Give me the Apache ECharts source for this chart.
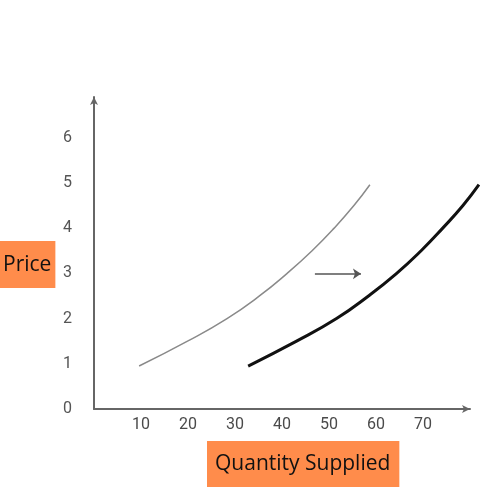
<!DOCTYPE html>
<html>
<head>
<meta charset="utf-8">
<script src="https://cdn.jsdelivr.net/npm/echarts@6/dist/echarts.min.js"></script>
<style>html,body{margin:0;padding:0;background:#fff}#c{width:500px;height:500px}</style>
</head>
<body>
<div id="c"></div>
<script>
const prices = [0.95, 1.5, 2, 2.5, 3, 3.5, 4, 4.5, 4.96];
const qtyOriginal = [9.6, 19.9, 28.3, 35.2, 41.1, 46.4, 51.1, 55.3, 58.7];
const qtyShifted = [32.8, 43.1, 51.6, 58.4, 64.4, 69.6, 74.2, 78.5, 81.9];
const xTickLabels = [10, 20, 30, 40, 50, 60, 70];
const yTickLabels = [0, 1, 2, 3, 4, 5, 6];
const shiftArrow = { fromQty: 47.0, toQty: 56.8, price: 2.99 };

const chart = echarts.init(document.getElementById('c'));
const hiddenAxis = { show: false };
chart.setOption({
  backgroundColor: '#fff',
  animation: false,
  title: [
    { text: 'Price', left: 0, top: 241,
      backgroundColor: '#FF8C4B', padding: [11, 4, 10, 3],
      textStyle: { fontFamily: 'Open Sans', fontSize: 21, fontWeight: 'normal', color: '#111', lineHeight: 26 } },
    { text: 'Quantity Supplied', left: 207, top: 441,
      backgroundColor: '#FF8C4B', padding: [10, 9, 10, 8],
      textStyle: { fontFamily: 'Open Sans', fontSize: 21, fontWeight: 'normal', color: '#111', lineHeight: 26 } }
  ],
  grid: [
    { left: 94, right: 30, top: 97, bottom: 91 },
    { left: 94, right: 21, top: 97, bottom: 91 }
  ],
  xAxis: [{
    type: 'value', min: 0, max: 80, interval: 10, gridIndex: 0,
    axisLine: { lineStyle: { color: '#666', width: 2 }, symbol: ['none', 'arrow'], symbolSize: [6, 8] },
    axisTick: { show: false }, splitLine: { show: false },
    axisLabel: { margin: 8, color: '#4a4a4a', fontFamily: 'Roboto', fontSize: 16,
      formatter: v => xTickLabels.includes(v) ? String(v) : '' }
  }, {
    type: 'value', min: 0, max: 385 / 4.7, gridIndex: 1,
    axisLine: hiddenAxis, axisTick: hiddenAxis, axisLabel: hiddenAxis, splitLine: hiddenAxis
  }],
  yAxis: [{
    type: 'value', min: 0, max: 6.9, interval: 1, gridIndex: 0,
    axisLine: { show: true, lineStyle: { color: '#666', width: 2 }, symbol: ['none', 'arrow'], symbolSize: [6, 8] },
    axisTick: { show: false }, splitLine: { show: false },
    axisLabel: { margin: 22, color: '#555', fontFamily: 'Roboto', fontSize: 16,
      formatter: v => yTickLabels.includes(v) ? String(v) : '' }
  }, {
    type: 'value', min: 0, max: 6.9, gridIndex: 1,
    axisLine: hiddenAxis, axisTick: hiddenAxis, axisLabel: hiddenAxis, splitLine: hiddenAxis
  }],
  series: [
    { type: 'line', smooth: 0.5, showSymbol: false, xAxisIndex: 1, yAxisIndex: 1,
      data: qtyOriginal.map((q, i) => [q, prices[i]]),
      lineStyle: { color: '#8a8a8a', width: 1.5 },
      markLine: { silent: true, symbol: ['none', 'arrow'], symbolSize: 8,
        label: { show: false },
        lineStyle: { color: '#555', width: 1.5, type: 'solid' },
        data: [[{ coord: [shiftArrow.fromQty, shiftArrow.price] }, { coord: [shiftArrow.toQty, shiftArrow.price] }]] } },
    { type: 'line', smooth: 0.5, showSymbol: false, xAxisIndex: 1, yAxisIndex: 1,
      data: qtyShifted.map((q, i) => [q, prices[i]]),
      lineStyle: { color: '#111', width: 3 } }
  ]
});
</script>
</body>
</html>
